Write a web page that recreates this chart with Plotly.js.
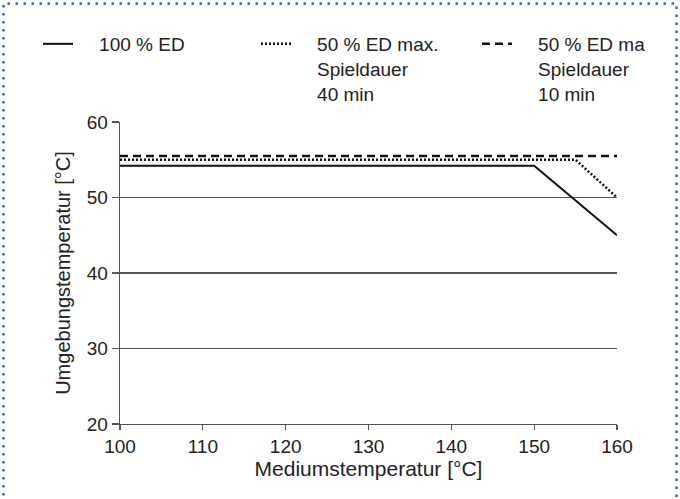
<!DOCTYPE html>
<html>
<head>
<meta charset="utf-8">
<script src="https://cdn.plot.ly/plotly-3.0.1.min.js"></script>
<style>
  html, body { margin: 0; padding: 0; background: #ffffff; }
  #chart { width: 680px; height: 499px; }
</style>
</head>
<body>
<div id="chart"></div>
<script>
// ---- data ----
const medium100 = [100, 150, 160];
const ambient100 = [54.2, 54.2, 45];
const medium40 = [100, 155, 160];
const ambient40 = [55, 55, 50];
const medium10 = [100, 160];
const ambient10 = [55.5, 55.5];
const seriesNames = [
  "100 % ED",
  "50 % ED max.<br>Spieldauer<br>40 min",
  "50 % ED ma<br>Spieldauer<br>10 min"
];
const xTicks = [100, 110, 120, 130, 140, 150, 160];
const yTicks = [20, 30, 40, 50, 60];

// ---- layout constants ----
const W = 680, H = 499;
const M = { l: 120, r: 63, t: 122, b: 75, autoexpand: false };
const pw = W - M.l - M.r, ph = H - M.t - M.b;
const px2x = p => (p - M.l) / pw;          // container px -> paper x
const py2y = p => 1 + (M.t - p) / ph;      // container px -> paper y
const pad = s => s.split("<br>").map(l => "\u00a0\u00a0\u00a0\u00a0" + l).join("<br>");

const FONT = '"Liberation Sans", Arial, Helvetica, sans-serif';

const legendBase = (xpx) => ({
  orientation: "h",
  xref: "container", yref: "container",
  x: xpx / W, y: 1 - 25 / H,
  xanchor: "left", yanchor: "top",
  valign: "top",
  font: { family: FONT, size: 19, color: "#222" },
  bgcolor: "rgba(0,0,0,0)",
  borderwidth: 0
});

const traces = [
  { x: medium100, y: ambient100, name: pad(seriesNames[0]), mode: "lines",
    legend: "legend",
    line: { color: "#111", width: 2 } },
  { x: medium40, y: ambient40, name: pad(seriesNames[1]), mode: "lines",
    legend: "legend2",
    line: { color: "#111", width: 2.5, dash: "2px,2px" } },
  { x: medium10, y: ambient10, name: pad(seriesNames[2]), mode: "lines",
    legend: "legend3",
    line: { color: "#111", width: 2.5, dash: "8px,5px" } }
];

const layout = {
  width: W, height: H,
  margin: M,
  paper_bgcolor: "#ffffff",
  plot_bgcolor: "#ffffff",
  font: { family: FONT, size: 19, color: "#222" },
  showlegend: true,
  legend: legendBase(38),
  legend2: legendBase(256),
  legend3: legendBase(477),
  xaxis: {
    range: [100, 160],
    tickvals: xTicks,
    ticktext: xTicks.map(String),
    showgrid: false,
    zeroline: false,
    showline: true, linecolor: "#555", linewidth: 1.3,
    ticks: "outside", ticklen: 5, tickcolor: "#555", tickwidth: 1.3,
    tickfont: { size: 19 },
    automargin: true,
    title: { text: "Mediumstemperatur [°C]", font: { size: 21 }, standoff: 3 },
    fixedrange: true
  },
  yaxis: {
    range: [20, 60],
    tickvals: yTicks,
    ticktext: yTicks.map(String),
    showgrid: true, gridcolor: "#555", gridwidth: 1.3,
    zeroline: false,
    showline: true, linecolor: "#555", linewidth: 1.3,
    ticks: "outside", ticklen: 7, tickcolor: "#555", tickwidth: 1.3,
    tickfont: { size: 19 },
    title: { text: "Umgebungstemperatur [°C]", font: { size: 20 } },
    fixedrange: true
  },
  shapes: [
    { type: "rect", xref: "paper", yref: "paper", layer: "above",
      x0: px2x(3.5), x1: px2x(676.5), y0: py2y(520), y1: py2y(3.5),
      line: { color: "#2f65b5", width: 2.5, dash: "2.5px,5.5px" },
      fillcolor: "rgba(0,0,0,0)" }
  ]
};

Plotly.newPlot("chart", traces, layout, { displayModeBar: false, staticPlot: true });
</script>
</body>
</html>
